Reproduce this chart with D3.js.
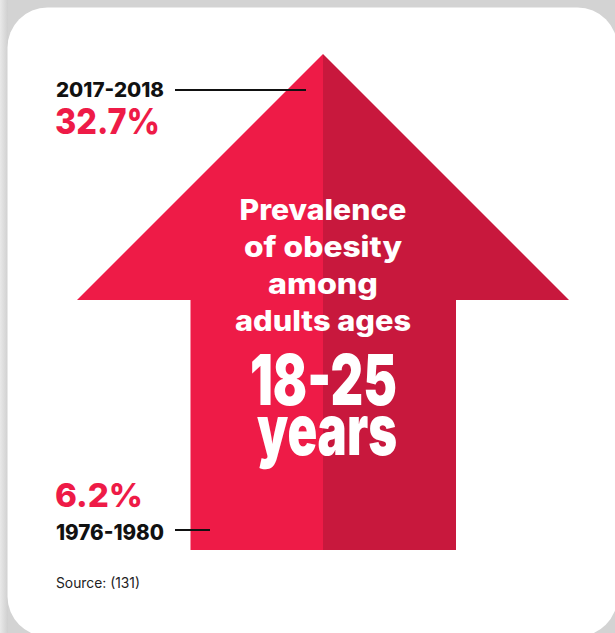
<!DOCTYPE html>
<html>
<head>
<meta charset="utf-8">
<script src="https://cdn.jsdelivr.net/npm/d3@7"></script>
<style>
  html, body { margin: 0; padding: 0; background: #d3d3d3; }
  svg { display: block; }
</style>
</head>
<body>
<div id="chart"></div>
<script>
// ---- data ----
const periods = ["1976-1980", "2017-2018"];
const prevalence = [6.2, 32.7];
const titleLines = ["Prevalence", "of obesity", "among", "adults ages"];
const bigLines = ["18-25", "years"];
const source = "Source: (131)";

// ---- layout ----
const W = 615, H = 633;
const svg = d3.select("#chart").append("svg").attr("width", W).attr("height", H);

const defs = svg.append("defs");
const lg = defs.append("linearGradient").attr("id", "shadeL").attr("x1", 0).attr("x2", 1).attr("y1", 0).attr("y2", 0);
lg.append("stop").attr("offset", "0%").attr("stop-color", "#e9e9e9");
lg.append("stop").attr("offset", "100%").attr("stop-color", "#cfcfcf");

svg.append("rect").attr("width", W).attr("height", H).attr("fill", "#d3d3d3");
svg.append("rect").attr("x", 0).attr("y", 0).attr("width", 8).attr("height", H).attr("fill", "url(#shadeL)");

// card
svg.append("rect").attr("x", 7.5).attr("y", 7.5).attr("width", 610).attr("height", 629)
  .attr("rx", 40).attr("ry", 40).attr("fill", "#ffffff");

// arrow geometry via scales
const cx = 323;
const x = d3.scaleLinear().domain([-1, 1]).range([77, 569]);   // head half-width
const xs = d3.scaleLinear().domain([-1, 1]).range([190.5, 456]); // shaft
const yA = d3.scaleLinear().domain([0, 1]).range([54, 300]);    // head top -> base
const shaftBottom = 550;

const leftPoly = [[cx, yA(0)], [x(-1), yA(1)], [xs(-1), yA(1)], [xs(-1), shaftBottom], [cx, shaftBottom]];
const rightPoly = [[cx, yA(0)], [x(1), yA(1)], [xs(1), yA(1)], [xs(1), shaftBottom], [cx, shaftBottom]];
const line = d3.line();
svg.append("path").attr("d", line(leftPoly) + "Z").attr("fill", "#ee1b47");
svg.append("path").attr("d", line(rightPoly) + "Z").attr("fill", "#c8183d");

// value scale for leader lines
const yv = d3.scaleLinear().domain([prevalence[0], prevalence[1]]).range([530, 90]);
const font = "Inter, Lato, 'Open Sans', sans-serif";

// top label
svg.append("line").attr("x1", 175).attr("x2", 306).attr("y1", yv(prevalence[1])).attr("y2", yv(prevalence[1]))
  .attr("stroke", "#111").attr("stroke-width", 2);
svg.append("text").attr("x", 56).attr("y", 97).text(periods[1])
  .attr("font-family", font).attr("font-weight", 800).attr("font-size", 20).attr("fill", "#111")
  .attr("textLength", 108).attr("lengthAdjust", "spacingAndGlyphs");
svg.append("text").attr("x", 55).attr("y", 134).text(prevalence[1].toFixed(1) + "%")
  .attr("font-family", font).attr("font-weight", 800).attr("font-size", 36).attr("fill", "#ee1b47")
  .attr("textLength", 105).attr("lengthAdjust", "spacingAndGlyphs");

// bottom label
svg.append("line").attr("x1", 175).attr("x2", 210).attr("y1", yv(prevalence[0])).attr("y2", yv(prevalence[0]))
  .attr("stroke", "#111").attr("stroke-width", 2);
svg.append("text").attr("x", 55).attr("y", 507).text(prevalence[0].toFixed(1) + "%")
  .attr("font-family", font).attr("font-weight", 800).attr("font-size", 33).attr("fill", "#ee1b47")
  .attr("textLength", 88).attr("lengthAdjust", "spacingAndGlyphs");
svg.append("text").attr("x", 56).attr("y", 540).text(periods[0])
  .attr("font-family", font).attr("font-weight", 800).attr("font-size", 21).attr("fill", "#111")
  .attr("textLength", 108).attr("lengthAdjust", "spacingAndGlyphs");

// source
svg.append("text").attr("x", 56).attr("y", 588).text(source)
  .attr("font-family", font).attr("font-weight", 400).attr("font-size", 14).attr("fill", "#222")
  .attr("textLength", 84).attr("lengthAdjust", "spacingAndGlyphs");

// center title
const titleY = [220, 257, 294, 331];
const titleW = [167, 158, 110, 176];
titleLines.forEach((t, i) => {
  svg.append("text").attr("x", cx).attr("y", titleY[i]).attr("text-anchor", "middle").text(t)
    .attr("font-family", font).attr("font-weight", 800).attr("font-size", 28).attr("fill", "#fff")
    .attr("textLength", titleW[i]).attr("lengthAdjust", "spacingAndGlyphs");
});
const bigY = [405, 455];
const bigW = [147, 140];
const bigX = [323.5, 327];
bigLines.forEach((t, i) => {
  svg.append("text").attr("x", bigX[i]).attr("y", bigY[i]).attr("text-anchor", "middle").text(t)
    .attr("font-family", "Inter, Roboto, sans-serif").attr("font-weight", 900).attr("font-size", 70).attr("fill", "#fff")
    .attr("textLength", bigW[i]).attr("lengthAdjust", "spacingAndGlyphs");
});
</script>
</body>
</html>
